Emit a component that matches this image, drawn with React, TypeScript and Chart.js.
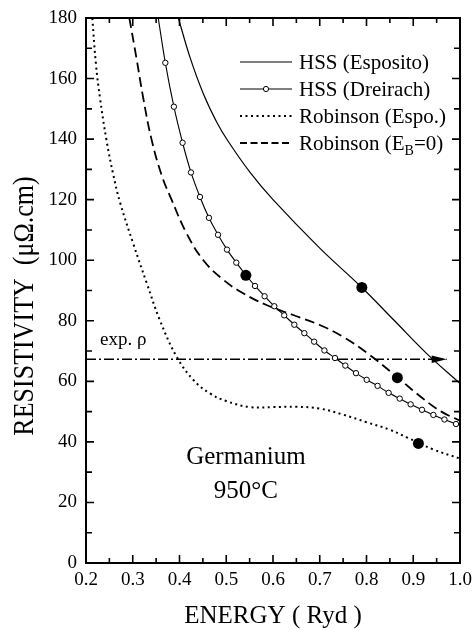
import React, { useEffect, useRef } from 'react';
import { Chart, registerables } from 'chart.js';

Chart.register(...registerables);

// ---- Data ----
const espositoEnergy = [0.3975, 0.4225, 0.451, 0.48, 0.504, 0.551, 0.6, 0.7, 0.79, 0.86, 0.93, 1.0];
const espositoRho = [180, 167, 155, 145.5, 139.3, 129, 120, 104, 91, 80, 69, 59.3];

const dreirachEnergy = [0.3545, 0.3697, 0.388, 0.4066, 0.4246, 0.4438, 0.463, 0.4824, 0.5016, 0.5215, 0.5415, 0.5615, 0.582, 0.6028, 0.624, 0.6456, 0.667, 0.688, 0.71, 0.7326, 0.7547, 0.7775, 0.8004, 0.8237, 0.8473, 0.871, 0.8944, 0.9187, 0.943, 0.9667, 0.9914];
const dreirachRho = [180, 165.2, 150.7, 138.8, 129, 120.9, 114.0, 108.4, 103.5, 99.2, 95.2, 91.5, 88.1, 84.8, 81.8, 78.7, 75.9, 73.1, 70.2, 67.7, 65.2, 62.7, 60.5, 58.5, 56.2, 54.3, 52.4, 50.6, 48.9, 47.4, 45.9];

const robEspoEnergy = [0.2135, 0.2214, 0.23, 0.244, 0.258, 0.273, 0.301, 0.33, 0.358, 0.394, 0.43, 0.465, 0.5, 0.55, 0.6, 0.65, 0.7, 0.75, 0.8, 0.85, 0.886, 0.943, 1.0];
const robEspoRho = [180, 164.5, 153.5, 139.5, 128.5, 119, 105.5, 92.4, 80.2, 68.1, 60.4, 56, 53.5, 51.5, 51.5, 51.6, 51, 49, 46.5, 44, 41.5, 37.5, 34.5];

const robEb0Energy = [0.2927, 0.308, 0.3225, 0.34, 0.362, 0.383, 0.415, 0.451, 0.494, 0.536, 0.586, 0.643, 0.7, 0.75, 0.807, 0.87, 0.92, 0.96, 1.0];
const robEb0Rho = [180, 166.7, 153.5, 140, 128, 120, 108.9, 100, 93.5, 89.1, 85.2, 81.9, 78.6, 74.7, 68.7, 60.8, 54.4, 50, 47];

const expEnergy = [0.2, 0.9715];
const expRho = [67.3, 67.3];

const dotEnergy = [0.542, 0.79, 0.866, 0.911];
const dotRho = [95.0, 91.0, 61.2, 39.5];

const xTicksMin = 0.2;
const xTicksMax = 1.0;
const yTicksMin = 0;
const yTicksMax = 180;

const legendLabels = ['HSS (Esposito)', 'HSS (Dreirach)', 'Robinson (Espo.)', 'Robinson (E'];

const FONT = "'Liberation Serif', 'Times New Roman', serif";

const toXY = (xs: number[], ys: number[]) => xs.map((x, i) => ({ x, y: ys[i] }));

const decorPlugin = {
  id: 'decor',
  afterDatasetsDraw(chart: any) {
    const { ctx, chartArea } = chart;
    const { left, right, top, bottom } = chartArea;
    const xs = chart.scales.x;
    const ys = chart.scales.y;
    ctx.save();
    ctx.strokeStyle = '#000';
    ctx.fillStyle = '#000';

    // frame
    ctx.lineWidth = 2;
    ctx.setLineDash([]);
    ctx.strokeRect(left, top, right - left, bottom - top);

    // ticks (inward)
    ctx.lineWidth = 1.6;
    ctx.beginPath();
    for (let i = 0; i <= 16; i++) {
      const v = xTicksMin + i * 0.05;
      const px = xs.getPixelForValue(v);
      const len = i % 2 === 0 ? 8 : 5;
      ctx.moveTo(px, bottom);
      ctx.lineTo(px, bottom - len);
      ctx.moveTo(px, top);
      ctx.lineTo(px, top + len);
    }
    for (let i = 0; i <= 18; i++) {
      const v = yTicksMin + i * 10;
      const py = ys.getPixelForValue(v);
      const len = i % 2 === 0 ? 8 : 6;
      ctx.moveTo(left, py);
      ctx.lineTo(left + len, py);
      ctx.moveTo(right, py);
      ctx.lineTo(right - len, py);
    }
    ctx.stroke();

    // arrow head on exp line
    const tipX = xs.getPixelForValue(expEnergy[1]);
    const tipY = ys.getPixelForValue(expRho[1]);
    ctx.beginPath();
    ctx.moveTo(tipX, tipY);
    ctx.lineTo(tipX - 15, tipY - 3.8);
    ctx.lineTo(tipX - 15, tipY + 3.8);
    ctx.closePath();
    ctx.fill();

    // legend
    const rowsY = [62, 89, 116, 143];
    const lx0 = 240, lx1 = 292, tx = 299;
    ctx.font = `21px ${FONT}`;
    ctx.textAlign = 'left';
    ctx.textBaseline = 'alphabetic';
    rowsY.forEach((y, i) => {
      ctx.beginPath();
      if (i === 0 || i === 1) { ctx.setLineDash([]); ctx.lineWidth = 1.2; }
      if (i === 2) { ctx.setLineDash([2, 3.5]); ctx.lineWidth = 2; }
      if (i === 3) { ctx.setLineDash([7, 3.5]); ctx.lineWidth = 1.8; }
      ctx.moveTo(lx0, y);
      ctx.lineTo(lx1, y);
      ctx.stroke();
      ctx.setLineDash([]);
      if (i === 1) {
        ctx.beginPath();
        ctx.lineWidth = 1;
        ctx.fillStyle = '#fff';
        ctx.arc((lx0 + lx1) / 2, y, 2.6, 0, Math.PI * 2);
        ctx.fill();
        ctx.stroke();
        ctx.fillStyle = '#000';
      }
      ctx.fillText(legendLabels[i], tx, y + 7);
      if (i === 3) {
        const w = ctx.measureText(legendLabels[i]).width;
        ctx.font = `14px ${FONT}`;
        ctx.fillText('B', tx + w, y + 12);
        const wb = ctx.measureText('B').width;
        ctx.font = `21px ${FONT}`;
        ctx.fillText('=0)', tx + w + wb, y + 7);
      }
    });

    // annotations
    ctx.font = `19px ${FONT}`;
    ctx.textAlign = 'left';
    ctx.fillText('exp. \u03c1', xs.getPixelForValue(0.23), ys.getPixelForValue(72));
    ctx.font = `25px ${FONT}`;
    ctx.textAlign = 'center';
    ctx.fillText('Germanium', xs.getPixelForValue(0.542), ys.getPixelForValue(32.7));
    ctx.fillText('950\u00b0C', xs.getPixelForValue(0.542), ys.getPixelForValue(21.5));

    // axis titles
    ctx.font = `25px ${FONT}`;
    ctx.textAlign = 'center';
    ctx.fillText('ENERGY ( Ryd )', (left + right) / 2, 623);

    ctx.save();
    ctx.translate(33, 306);
    ctx.rotate(-Math.PI / 2);
    ctx.scale(1, 1.12);
    ctx.font = `26px ${FONT}`;
    ctx.textAlign = 'center';
    ctx.fillText('RESISTIVITY  (\u03bc\u03a9.cm)', 0, 0);
    ctx.restore();

    ctx.restore();
  },
};

export default function App() {
  const ref = useRef<HTMLCanvasElement>(null);
  useEffect(() => {
    document.body.style.margin = '0';
    const canvas = ref.current;
    if (!canvas) return;
    const line = {
      showLine: true,
      borderColor: '#000',
      backgroundColor: '#000',
      pointRadius: 0,
      tension: 0.4,
      fill: false,
    };
    const chart = new Chart(canvas, {
      type: 'scatter',
      data: {
        datasets: [
          {
            label: 'points',
            data: toXY(dotEnergy, dotRho),
            showLine: false,
            pointRadius: 5.5,
            pointBackgroundColor: '#000',
            pointBorderColor: '#000',
            pointBorderWidth: 0,
            order: 0,
          },
          {
            ...line,
            label: 'HSS (Esposito)',
            data: toXY(espositoEnergy, espositoRho),
            borderWidth: 1.2,
            order: 4,
          },
          {
            ...line,
            label: 'HSS (Dreirach)',
            data: toXY(dreirachEnergy, dreirachRho),
            borderWidth: 1.1,
            tension: 0.3,
            pointRadius: dreirachEnergy.map((_, i) => (i === 0 ? 0 : 2.7)),
            pointBackgroundColor: '#fff',
            pointBorderColor: '#000',
            pointBorderWidth: 1,
            order: 1,
          },
          {
            ...line,
            label: 'Robinson (Espo.)',
            data: toXY(robEspoEnergy, robEspoRho),
            borderWidth: 2,
            borderDash: [2, 3.5],
            order: 5,
          },
          {
            ...line,
            label: 'Robinson (EB=0)',
            data: toXY(robEb0Energy, robEb0Rho),
            borderWidth: 1.8,
            borderDash: [10, 5],
            order: 3,
          },
          {
            ...line,
            label: 'exp. rho',
            data: toXY(expEnergy, expRho),
            borderWidth: 1.3,
            borderDash: [10, 3, 2, 3],
            tension: 0,
            order: 6,
          },
        ],
      },
      options: {
        responsive: false,
        animation: false,
        layout: { padding: { top: 18, right: 13, left: 0, bottom: 0 } },
        plugins: { legend: { display: false }, tooltip: { enabled: false } },
        scales: {
          x: {
            type: 'linear',
            min: xTicksMin,
            max: xTicksMax,
            grid: { display: false, drawTicks: false },
            border: { display: false },
            ticks: {
              stepSize: 0.1,
              color: '#000',
              padding: 6,
              maxRotation: 0,
              autoSkip: false,
              font: { family: FONT, size: 19 },
              callback: (v: any) => Number(v).toFixed(1),
            },
            afterFit: (s: any) => {
              s.height = 67;
              s.paddingLeft = 0;
              s.paddingRight = 0;
            },
          },
          y: {
            type: 'linear',
            min: yTicksMin,
            max: yTicksMax,
            grid: { display: false, drawTicks: false },
            border: { display: false },
            ticks: {
              stepSize: 20,
              color: '#000',
              padding: 9,
              autoSkip: false,
              font: { family: FONT, size: 19 },
            },
            afterFit: (s: any) => {
              s.width = 86;
              s.paddingTop = 0;
              s.paddingBottom = 0;
            },
          },
        },
      },
      plugins: [decorPlugin],
    });
    return () => chart.destroy();
  }, []);
  return (
    <div style={{ width: 473, height: 630 }}>
      <canvas ref={ref} width={473} height={630} style={{ display: 'block' }} />
    </div>
  );
}
